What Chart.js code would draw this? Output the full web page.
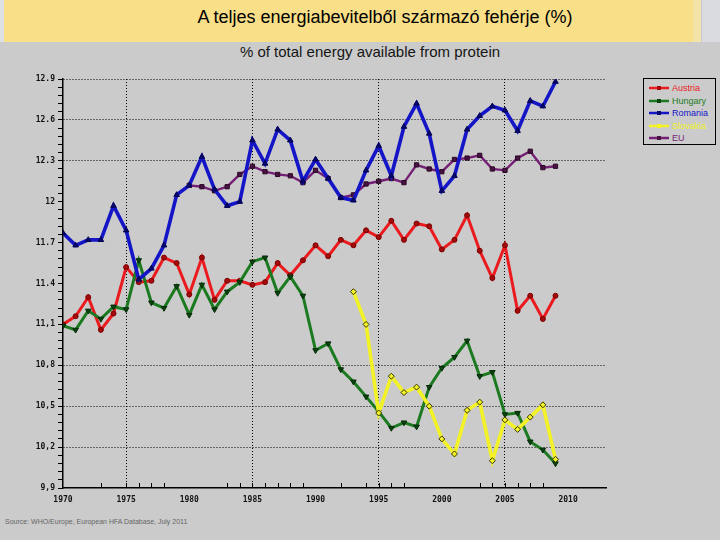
<!DOCTYPE html>
<html>
<head>
<meta charset="utf-8">
<script src="https://cdn.jsdelivr.net/npm/chart.js@4/dist/chart.umd.min.js"></script>
<style>
  html, body { margin:0; padding:0; }
  body { width:720px; height:540px; background:#cbcbcb; position:relative; overflow:hidden; font-family:"Liberation Sans", Arial, sans-serif; }
  #banner { position:absolute; left:4px; top:0; width:689px; height:42px; background:#f8df88; }
  #strip1 { position:absolute; left:693px; top:0; width:8px; height:42px; background:#f4e3a8; }
  #strip2 { position:absolute; left:701px; top:0; width:19px; height:42px; background:#d9dbe1; border-left:1px solid #c7cad2; }
  #strip0 { position:absolute; left:0; top:0; width:4px; height:42px; background:#dfe0e4; }
  #title { position:absolute; left:25px; width:720px; top:7px; text-align:center; font-size:18px; color:#000; }
  #subtitle { position:absolute; left:0; width:740px; top:43px; text-align:center; font-size:15px; color:#151515; }
  #source { position:absolute; left:5px; top:518px; font-size:7px; color:#666; font-family:"Liberation Sans", Arial, sans-serif; }
  #legend { position:absolute; left:643px; top:78px; width:73px; height:67px; border:1px solid #000; box-sizing:border-box; }
  .li { position:absolute; left:0; height:12px; font-size:9px; line-height:12px; }
  .li canvas { position:absolute; left:5px; top:1px; }
  .li span { position:absolute; left:28px; top:0; white-space:nowrap; }
  #c { position:absolute; left:0; top:0; }
</style>
</head>
<body>
<div id="strip0"></div><div id="banner"></div><div id="strip1"></div><div id="strip2"></div>
<div id="title">A teljes energiabevitelből származó fehérje (%)</div>
<div id="subtitle">% of total energy available from protein</div>
<div id="source">Source: WHO/Europe, European HFA Database, July 2011</div>
<div id="legend"></div>
<canvas id="c" width="720" height="540"></canvas>
<script>
const years = [1970,1971,1972,1973,1974,1975,1976,1977,1978,1979,1980,1981,1982,1983,1984,1985,1986,1987,1988,1989,
               1990,1991,1992,1993,1994,1995,1996,1997,1998,1999,2000,2001,2002,2003,2004,2005,2006,2007,2008,2009];

const austria = [11.10,11.16,11.30,11.06,11.18,11.52,11.41,11.42,11.59,11.55,11.32,11.59,11.28,11.42,11.42,11.39,11.41,11.55,11.46,11.57,
                 11.68,11.60,11.72,11.68,11.79,11.74,11.86,11.72,11.84,11.82,11.65,11.72,11.90,11.64,11.44,11.68,11.20,11.31,11.14,11.31];
const hungary = [11.09,11.06,11.20,11.14,11.23,11.21,11.57,11.26,11.22,11.38,11.17,11.39,11.21,11.34,11.41,11.56,11.59,11.33,11.45,11.31,
                 10.91,10.96,10.77,10.68,10.57,10.46,10.34,10.38,10.35,10.64,10.78,10.86,10.98,10.72,10.75,10.44,10.45,10.24,10.18,10.08];
const romania = [11.77,11.68,11.72,11.72,11.97,11.79,11.43,11.51,11.68,12.05,12.12,12.33,12.09,11.97,12.00,12.45,12.28,12.53,12.45,12.15,
                 12.31,12.17,12.03,12.01,12.23,12.41,12.19,12.55,12.72,12.50,12.08,12.19,12.53,12.63,12.70,12.67,12.52,12.74,12.70,12.88];
const slovakia = [null,null,null,null,null,null,null,null,null,null,null,null,null,null,null,null,null,null,null,null,
                  null,null,null,11.34,11.10,10.45,10.72,10.60,10.64,10.50,10.26,10.15,10.47,10.53,10.10,10.40,10.33,10.42,10.51,10.11];
const eu = [null,null,null,null,null,null,null,null,null,null,12.12,12.11,12.08,12.11,12.20,12.26,12.22,12.20,12.19,12.14,
            12.23,12.17,12.03,12.05,12.13,12.15,12.17,12.14,12.27,12.24,12.22,12.31,12.32,12.34,12.24,12.23,12.32,12.37,12.25,12.26];

const seriesNames = ["Austria","Hungary","Romania","Slovakia","EU"];
const yTickLabels = ["9,9","10,2","10,5","10,8","11,1","11.4","11.7","12","12.3","12.6","12.9"];
const yGridValues = [10.2,10.5,10.8,12.3,12.6,12.9];
const xTickLabels = [1970,1975,1980,1985,1990,1995,2000,2005,2010];
const xGridYears = [1975,1985,1995,2005];
const xMinorTickYears = [1973,1975,1976,1977,1978,1983,1984,1985,1986,1987,1988,1989,1992,1994,1995,1996,1997,2003,2004,2005,2006,2007,2008];

const styles = [
  {line:"#ea1a1e", pt:"#a50a0a", ptBorder:"#7a0000", style:"circle", r:2.5, w:3, rot:0},
  {line:"#1b7a1f", pt:"#0b4410", ptBorder:"#062a08", style:"triangle", r:3.2, w:3, rot:180},
  {line:"#1515c8", pt:"#080870", ptBorder:"#000050", style:"triangle", r:3.2, w:3.6, rot:0},
  {line:"#f2f226", pt:"#f2f226", ptBorder:"#333300", style:"rectRot", r:3, w:3.6, rot:0},
  {line:"#761f76", pt:"#4a1242", ptBorder:"#2a0826", style:"rect", r:3, w:2.4, rot:0}
];
const allData = [austria, hungary, romania, slovakia, eu];

const datasets = allData.map((arr, i) => ({
  label: seriesNames[i],
  data: years.map((y, j) => ({x: y, y: arr[j]})),
  borderColor: styles[i].line,
  backgroundColor: styles[i].pt,
  pointBackgroundColor: styles[i].pt,
  pointBorderColor: styles[i].ptBorder,
  pointBorderWidth: 1,
  pointStyle: styles[i].style,
  pointRotation: styles[i].rot,
  pointRadius: styles[i].r,
  borderWidth: styles[i].w,
  tension: 0,
  spanGaps: false,
  order: [3,2,1,0,4][i]
}));

const near = (a, b) => Math.abs(a - b) < 1e-6;

const minorTicksPlugin = {
  id: "minorTicks",
  afterDraw(chart) {
    const ctx = chart.ctx;
    const xs = chart.scales.x;
    const bottom = chart.chartArea.bottom;
    ctx.save();
    ctx.strokeStyle = "#000";
    ctx.lineWidth = 1;
    xMinorTickYears.forEach(yr => {
      const px = Math.round(xs.getPixelForValue(yr)) + 0.5;
      ctx.beginPath();
      ctx.moveTo(px, bottom);
      ctx.lineTo(px, bottom - 5);
      ctx.stroke();
    });
    ctx.restore();
  }
};

new Chart(document.getElementById("c"), {
  type: "line",
  data: { datasets },
  options: {
    responsive: false,
    animation: false,
    events: [],
    layout: { padding: { left: 0, top: 79, right: 114, bottom: 0 } },
    plugins: { legend: { display: false }, tooltip: { enabled: false }, title: { display: false } },
    scales: {
      x: {
        type: "linear",
        min: 1970, max: 2013,
        afterFit(s) { s.height = 52; },
        ticks: {
          stepSize: 1, autoSkip: false, maxRotation: 0, padding: 7,
          color: "#111",
          font: { family: "DejaVu Sans Mono", size: 8, weight: "bold" },
          callback: v => xTickLabels.includes(v) ? String(v) : ""
        },
        grid: {
          drawTicks: false,
          lineWidth: 1,
          color: c => (c.tick && xGridYears.includes(c.tick.value)) ? "#000" : "rgba(0,0,0,0)"
        },
        border: { display: true, color: "#000", width: 1.5, dash: [1, 2] }
      },
      y: {
        min: 9.9, max: 12.9,
        afterFit(s) { s.width = 63; },
        ticks: {
          stepSize: 0.06, autoSkip: false, padding: 3,
          color: "#111",
          font: { family: "DejaVu Sans Mono", size: 8, weight: "bold" },
          callback: v => {
            const k = Math.round((v - 9.9) / 0.06);
            return (k % 5 === 0) ? yTickLabels[k / 5] : "";
          }
        },
        grid: {
          drawTicks: true,
          tickLength: 5,
          tickColor: "#000",
          tickWidth: 1,
          tickBorderDash: [],
          lineWidth: 1,
          color: c => (c.tick && yGridValues.some(g => near(g, c.tick.value))) ? "#000" : "rgba(0,0,0,0)"
        },
        border: { display: true, color: "#000", width: 1.5, dash: [1, 2] }
      }
    }
  },
  plugins: [minorTicksPlugin]
});

// HTML legend built from the series names and styles
const legend = document.getElementById("legend");
seriesNames.forEach((name, i) => {
  const row = document.createElement("div");
  row.className = "li";
  row.style.top = (3 + i * 12.6) + "px";
  const cv = document.createElement("canvas");
  cv.width = 20; cv.height = 10;
  const g = cv.getContext("2d");
  g.strokeStyle = styles[i].line; g.lineWidth = 2.5;
  g.beginPath(); g.moveTo(0, 5); g.lineTo(20, 5); g.stroke();
  g.fillStyle = styles[i].pt;
  g.fillRect(8, 3, 4, 4);
  const sp = document.createElement("span");
  sp.textContent = name;
  sp.style.color = styles[i].line;
  row.appendChild(cv); row.appendChild(sp);
  legend.appendChild(row);
});
</script>
</body>
</html>
